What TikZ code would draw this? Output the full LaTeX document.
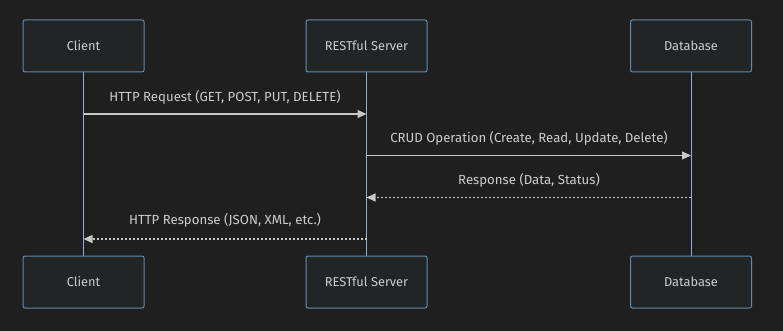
\documentclass[tikz,border=0pt]{standalone}
\usepackage{fontspec}
\setmainfont{Fira Sans}
\usetikzlibrary{arrows.meta}
\definecolor{bgc}{HTML}{1F1F1F}
\definecolor{boxfill}{HTML}{212526}
\definecolor{boxline}{HTML}{6489AB}
\definecolor{lifec}{HTML}{8AB3DB}
\definecolor{txtc}{HTML}{CCCCCC}
\definecolor{arrc}{HTML}{C8C8C8}
\tikzset{
  actor/.style={draw=boxline, fill=boxfill, line width=1pt, rounded corners=2pt,
    minimum width=121pt, minimum height=52pt, text=txtc, font=\fontsize{12.8}{15}\selectfont, inner sep=0pt},
  life/.style={draw=lifec, line width=1pt},
  msg/.style={draw=arrc, line width=1.2pt, -{Triangle[length=9pt,width=8pt]}},
  reply/.style={msg, dash pattern=on 2pt off 2pt},
  lbl/.style={text=txtc, font=\fontsize{13.2}{15}\selectfont, inner sep=0pt},
}
\begin{document}
\begin{tikzpicture}[x=1pt,y=-1pt]
\fill[bgc] (0,0) rectangle (783,331);
\useasboundingbox (0,0) rectangle (783,331);
% lifelines
\coordinate (c1) at (83.5,72); \coordinate (c2) at (83.5,256);
\coordinate (s1) at (366.5,72); \coordinate (s2) at (366.5,256);
\coordinate (d1) at (691,72); \coordinate (d2) at (691,256);
\draw[life] (c1) -- (c2);
\draw[life] (s1) -- (s2);
\draw[life] (d1) -- (d2);
% actors
\node[actor] (ct) at (83.5,46) {Client};
\node[actor] (st) at (366.5,46) {RESTful Server};
\node[actor] (dt) at (691,46) {Database};
\node[actor] (cb) at (83.5,282) {Client};
\node[actor] (sb) at (366.5,282) {RESTful Server};
\node[actor] (db) at (691,282) {Database};
% messages
\coordinate (m1a) at (83.5,114); \coordinate (m1b) at (366.5,114);
\coordinate (m2a) at (366.5,155.5); \coordinate (m2b) at (691,155.5);
\coordinate (m3a) at (691,197.5); \coordinate (m3b) at (366.5,197.5);
\coordinate (m4a) at (366.5,239); \coordinate (m4b) at (83.5,239);
\draw[msg] (m1a) -- (m1b);
\draw[msg] (m2a) -- (m2b);
\draw[reply] (m3a) -- (m3b);
\draw[reply] (m4a) -- (m4b);
\node[lbl] (l1) at (225,97) {HTTP Request (GET, POST, PUT, DELETE)};
\node[lbl] (l2) at (529,138.5) {CRUD Operation (Create, Read, Update, Delete)};
\node[lbl] (l3) at (529,180) {Response (Data, Status)};
\node[lbl] (l4) at (225,220.5) {HTTP Response (JSON, XML, etc.)};
\end{tikzpicture}
\end{document}
